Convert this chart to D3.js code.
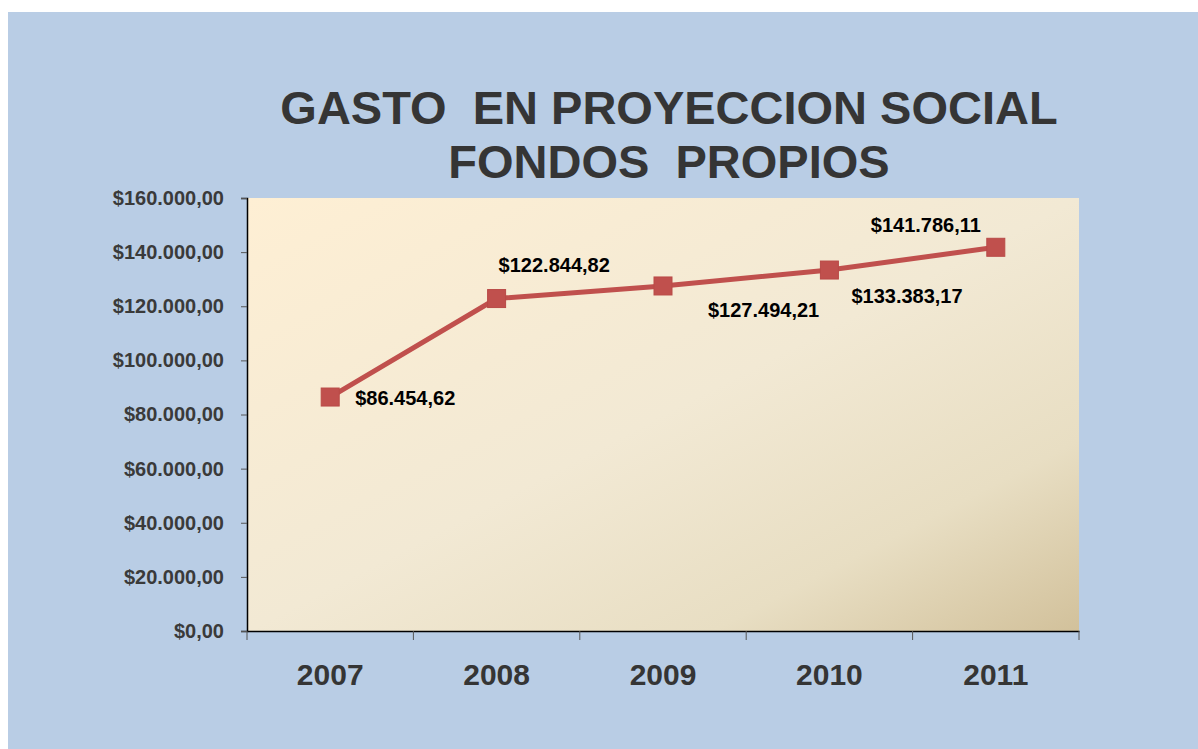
<!DOCTYPE html>
<html lang="es">
<head>
<meta charset="UTF-8">
<title>Gasto en proyeccion social</title>
<style>
    body { margin: 0; background: #ffffff; }
    svg text { font-family: "Liberation Sans", Arial, sans-serif; font-weight: bold; white-space: pre; }
</style>
</head>
<body>
<svg width="1198" height="749"></svg>
<script src="https://cdn.jsdelivr.net/npm/d3@7/dist/d3.min.js"></script>
<script>
// data
var years = ["2007", "2008", "2009", "2010", "2011"];
var gasto = [86454.62, 122844.82, 127494.21, 133383.17, 141786.11];
var yTicks = [0, 20000, 40000, 60000, 80000, 100000, 120000, 140000, 160000];
var titleLines = ["GASTO  EN PROYECCION SOCIAL", "FONDOS  PROPIOS"];

var svg = d3.select("svg"),
    margin = {top: 198, right: 119, bottom: 118, left: 247},
    width = +svg.attr("width") - margin.left - margin.right,
    height = +svg.attr("height") - margin.top - margin.bottom;

var es = d3.formatLocale({decimal: ",", thousands: ".", grouping: [3], currency: ["$", ""]});
var money = es.format("$,.2f");

// background
svg.append("rect")
    .attr("x", 8).attr("y", 12)
    .attr("width", 1190).attr("height", 737)
    .attr("fill", "#b9cde5");

var defs = svg.append("defs");
var grad = defs.append("linearGradient")
    .attr("id", "plotbg")
    .attr("x1", 0).attr("y1", 0).attr("x2", 1).attr("y2", 1);
grad.append("stop").attr("offset", "0%").attr("stop-color", "#feefd4");
grad.append("stop").attr("offset", "50%").attr("stop-color", "#f2e9d4");
grad.append("stop").attr("offset", "78%").attr("stop-color", "#e8dec3");
grad.append("stop").attr("offset", "100%").attr("stop-color", "#d2c19b");

// title
svg.selectAll(".title")
    .data(titleLines)
    .enter().append("text")
    .attr("class", "title")
    .attr("x", 669)
    .attr("y", function(d, i) { return 124 + i * 54; })
    .attr("text-anchor", "middle")
    .attr("font-size", 47)
    .attr("fill", "#353535")
    .text(function(d) { return d; });

var xScale = d3.scaleBand().domain(years).range([0, width]),
    yScale = d3.scaleLinear().domain([0, 160000]).range([height, 0]);

var g = svg.append("g")
    .attr("transform", "translate(" + margin.left + "," + margin.top + ")");

g.append("rect")
    .attr("width", width).attr("height", height)
    .attr("fill", "url(#plotbg)");

// y axis
var yAxis = g.append("g")
    .call(d3.axisLeft(yScale).tickValues(yTicks).tickSize(6).tickPadding(17).tickFormat(money));
yAxis.select(".domain").attr("stroke", "#000").attr("stroke-width", 1.5);
yAxis.selectAll(".tick line").attr("stroke", "#555");
yAxis.selectAll(".tick text")
    .attr("font-size", 20)
    .attr("font-family", "Liberation Sans, Arial, sans-serif")
    .attr("fill", "#3a3a3a");

// x axis
var xAxis = g.append("g")
    .attr("transform", "translate(0," + height + ")")
    .call(d3.axisBottom(xScale).tickSize(0).tickPadding(33));
xAxis.select(".domain").attr("stroke", "#000").attr("stroke-width", 1.5);
xAxis.selectAll(".tick text")
    .attr("font-size", 30)
    .attr("font-family", "Liberation Sans, Arial, sans-serif")
    .attr("fill", "#353535");

// band boundary ticks
var edges = years.map(function(d) { return xScale(d); }).concat([xScale(years[years.length - 1]) + xScale.bandwidth()]);
xAxis.selectAll(".edge")
    .data(edges)
    .enter().append("line")
    .attr("class", "edge")
    .attr("x1", function(d) { return d; })
    .attr("x2", function(d) { return d; })
    .attr("y1", 0).attr("y2", 9)
    .attr("stroke", "#555");

// line + markers
var points = years.map(function(d, i) { return {year: d, value: gasto[i]}; });
var cx = function(d) { return xScale(d.year) + xScale.bandwidth() / 2; };

g.append("path")
    .datum(points)
    .attr("fill", "none")
    .attr("stroke", "#c0504d")
    .attr("stroke-width", 5)
    .attr("d", d3.line().x(cx).y(function(d) { return yScale(d.value); }));

g.selectAll(".marker")
    .data(points)
    .enter().append("rect")
    .attr("class", "marker")
    .attr("x", function(d) { return cx(d) - 9; })
    .attr("y", function(d) { return yScale(d.value) - 9; })
    .attr("width", 18).attr("height", 18)
    .attr("fill", "#c0504d")
    .attr("stroke", "#b94a47")
    .attr("stroke-width", 1);

// data labels, moved by hand like in the original
var labelShift = [[25, 8], [2, -27], [45, 31], [22, 33], [-125, -15]];
g.selectAll(".label")
    .data(points)
    .enter().append("text")
    .attr("class", "label")
    .attr("x", function(d, i) { return cx(d) + labelShift[i][0]; })
    .attr("y", function(d, i) { return yScale(d.value) + labelShift[i][1]; })
    .attr("font-size", 20)
    .attr("fill", "#000")
    .text(function(d) { return money(d.value); });
</script>
</body>
</html>
